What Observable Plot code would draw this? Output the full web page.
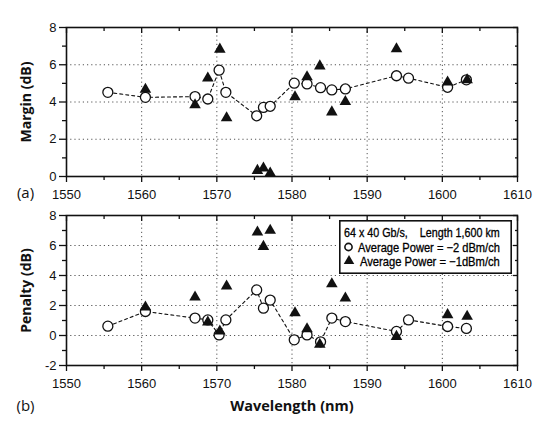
<!DOCTYPE html>
<html>
<head>
<meta charset="utf-8">
<script src="https://cdn.jsdelivr.net/npm/d3@7"></script>
<script src="https://cdn.jsdelivr.net/npm/@observablehq/plot@0.6"></script>
<style>
  html, body { margin: 0; padding: 0; background: #fff; }
  #wrap { position: relative; width: 550px; height: 422px; overflow: hidden; }
  #wrap svg { display: block; }
  #legend { position: absolute; left: 339px; top: 220px; }
</style>
</head>
<body>
<div id="wrap">
  <div id="top"></div>
  <div id="bottom"></div>
  <svg id="legend" width="173" height="54"></svg>
</div>
<script>
// ---- data ----
const wlCircle = [1555.5, 1560.5, 1567.1, 1568.8, 1570.3, 1571.2, 1575.3, 1576.2, 1577.1, 1580.3, 1582.0, 1583.8, 1585.3, 1587.1, 1593.9, 1595.5, 1600.7, 1603.2];
const wlTriangle = [1560.5, 1567.1, 1568.8, 1570.4, 1571.3, 1575.4, 1576.2, 1577.1, 1580.4, 1582.0, 1583.7, 1585.3, 1587.1, 1593.9, 1600.7, 1603.3];

const marginCircle = [4.52, 4.25, 4.29, 4.16, 5.71, 4.52, 3.26, 3.71, 3.77, 5.01, 4.97, 4.77, 4.65, 4.70, 5.41, 5.28, 4.79, 5.19];
const marginTriangle = [4.68, 3.84, 5.28, 6.83, 3.15, 0.32, 0.45, 0.18, 4.27, 5.35, 5.93, 3.46, 4.02, 6.85, 5.06, 5.19];

const penaltyCircle = [0.62, 1.60, 1.16, 1.04, 0.04, 1.04, 3.04, 1.82, 2.36, -0.29, 0.04, -0.42, 1.16, 0.93, 0.27, 1.04, 0.60, 0.47];
const penaltyTriangle = [1.89, 2.56, 0.89, 0.29, 3.29, 6.89, 5.93, 7.00, 1.51, 0.44, -0.60, 3.44, 2.49, -0.07, 1.38, 1.27];

const xMajor = [1550, 1560, 1570, 1580, 1590, 1600, 1610];
const xMinor = [1555, 1565, 1575, 1585, 1595, 1605];
const yMajorTop = [0, 2, 4, 6, 8];
const yMinorTop = [1, 3, 5, 7];
const yMajorBottom = [-2, 0, 2, 4, 6, 8];
const yMinorBottom = [-1, 1, 3, 5, 7];
const gridTop = [2, 4, 6];
const gridBottom = [0, 2, 4, 6];

const legendTitle = "64 x 40 Gb/s,\u00A0\u00A0\u00A0 Length 1,600 km";
const legendCircle = "Average Power = \u22122 dBm/ch";
const legendTriangle = "Average Power = \u22121dBm/ch";

const pts = (xs, ys) => xs.map((x, i) => ({x, y: ys[i]}));
const plain = d => String(d);

function panel({height, marginTop, marginBottom, yDomain, yMajor, yMinor, grid, circles, triangles, ylabel, tag, tagDy, xlabel}) {
  const sw = 1.3;
  const marks = [
    Plot.gridX([1560, 1570, 1580, 1590, 1600], {stroke: "#555", strokeOpacity: 1, strokeWidth: 1, strokeDasharray: "1.2,3"}),
    Plot.gridY(grid, {stroke: "#555", strokeOpacity: 1, strokeWidth: 1, strokeDasharray: "1.2,3"}),
    // bottom axis (outward)
    Plot.axisX(xMajor, {anchor: "bottom", tickSize: 6, tickPadding: 7, tickFormat: plain, label: null, strokeWidth: sw}),
    Plot.axisX(xMinor, {anchor: "bottom", tickSize: 4, fill: "none", label: null, strokeWidth: sw}),
    // top ticks (inward)
    Plot.axisX(xMajor, {anchor: "top", tickSize: 5, dy: 5, fill: "none", label: null, strokeWidth: sw}),
    Plot.axisX(xMinor, {anchor: "top", tickSize: 3, dy: 3, fill: "none", label: null, strokeWidth: sw}),
    // left axis (outward)
    Plot.axisY(yMajor, {anchor: "left", tickSize: 7, tickPadding: 3, tickFormat: plain, label: null, strokeWidth: sw}),
    Plot.axisY(yMinor, {anchor: "left", tickSize: 4, fill: "none", label: null, strokeWidth: sw}),
    // right ticks (inward)
    Plot.axisY(yMajor, {anchor: "right", tickSize: 5, dx: -5, fill: "none", label: null, strokeWidth: sw}),
    Plot.axisY(yMinor, {anchor: "right", tickSize: 3, dx: -3, fill: "none", label: null, strokeWidth: sw}),
    Plot.line(circles, {x: "x", y: "y", stroke: "#111", strokeWidth: 1.1, strokeDasharray: "3,3"}),
    Plot.dot(circles, {x: "x", y: "y", r: 5, stroke: "#111", strokeWidth: 1.3, fill: "white"}),
    Plot.dot(triangles, {x: "x", y: "y", symbol: "triangle", r: 4.3, fill: "#111", stroke: "none"}),
    Plot.frame({stroke: "#111", strokeWidth: 1.6}),
    Plot.text([ylabel], {frameAnchor: "left", textAnchor: "middle", dx: -40, rotate: -90, fontFamily: "'Open Sans', sans-serif", fontWeight: "bold", fontSize: 14, fill: "#111"}),
    Plot.text([tag], {frameAnchor: "bottom-left", textAnchor: "middle", dx: -41, dy: tagDy, fontFamily: "'Open Sans', sans-serif", fontSize: 15, fill: "#111"})
  ];
  if (xlabel) marks.push(Plot.text([xlabel], {frameAnchor: "bottom", textAnchor: "middle", dy: 45, fontFamily: "'Open Sans', sans-serif", fontWeight: "bold", fontSize: 14.5, fill: "#111"}));
  return Plot.plot({
    width: 550, height, marginLeft: 66, marginRight: 33, marginTop, marginBottom,
    x: {domain: [1550, 1610], label: null},
    y: {domain: yDomain, label: null},
    style: {fontFamily: "'Liberation Sans', Arial, sans-serif", fontSize: "13px", color: "#111", background: "white"},
    marks
  });
}

document.getElementById("top").appendChild(panel({
  height: 205, marginTop: 27, marginBottom: 29, yDomain: [0, 8],
  yMajor: yMajorTop, yMinor: yMinorTop, grid: gridTop,
  circles: pts(wlCircle, marginCircle), triangles: pts(wlTriangle, marginTriangle),
  ylabel: "Margin (dB)", tag: "(a)", tagDy: 21
}));
document.getElementById("bottom").appendChild(panel({
  height: 217, marginTop: 10, marginBottom: 57, yDomain: [-2, 8],
  yMajor: yMajorBottom, yMinor: yMinorBottom, grid: gridBottom,
  circles: pts(wlCircle, penaltyCircle), triangles: pts(wlTriangle, penaltyTriangle),
  ylabel: "Penalty (dB)", tag: "(b)", tagDy: 45, xlabel: "Wavelength (nm)"
}));

// legend box (drawn with d3)
const lg = d3.select("#legend");
lg.append("rect").attr("x", 0.8).attr("y", 0.8).attr("width", 171.4).attr("height", 52.4)
  .attr("fill", "white").attr("stroke", "#111").attr("stroke-width", 1.6);
function legendText(str, x, y, target) {
  const t = lg.append("text").text(str)
    .attr("font-family", "'Liberation Sans', Arial, sans-serif").attr("font-size", 12.5)
    .attr("fill", "#000").attr("stroke", "#000").attr("stroke-width", 0.3);
  const w = t.node().getComputedTextLength();
  const sx = Math.min(1, target / w);
  t.attr("transform", `translate(${x},${y}) scale(${sx},1)`);
}
legendText(legendTitle, 5, 17, 156);
lg.append("circle").attr("cx", 9.5).attr("cy", 27).attr("r", 3.6).attr("fill", "none").attr("stroke", "#111").attr("stroke-width", 1.6);
legendText(legendCircle, 19, 31.5, 142);
lg.append("path").attr("d", d3.symbol(d3.symbolTriangle, 48)()).attr("transform", "translate(10,41)").attr("fill", "#111");
legendText(legendTriangle, 21, 46, 140);
</script>
</body>
</html>
